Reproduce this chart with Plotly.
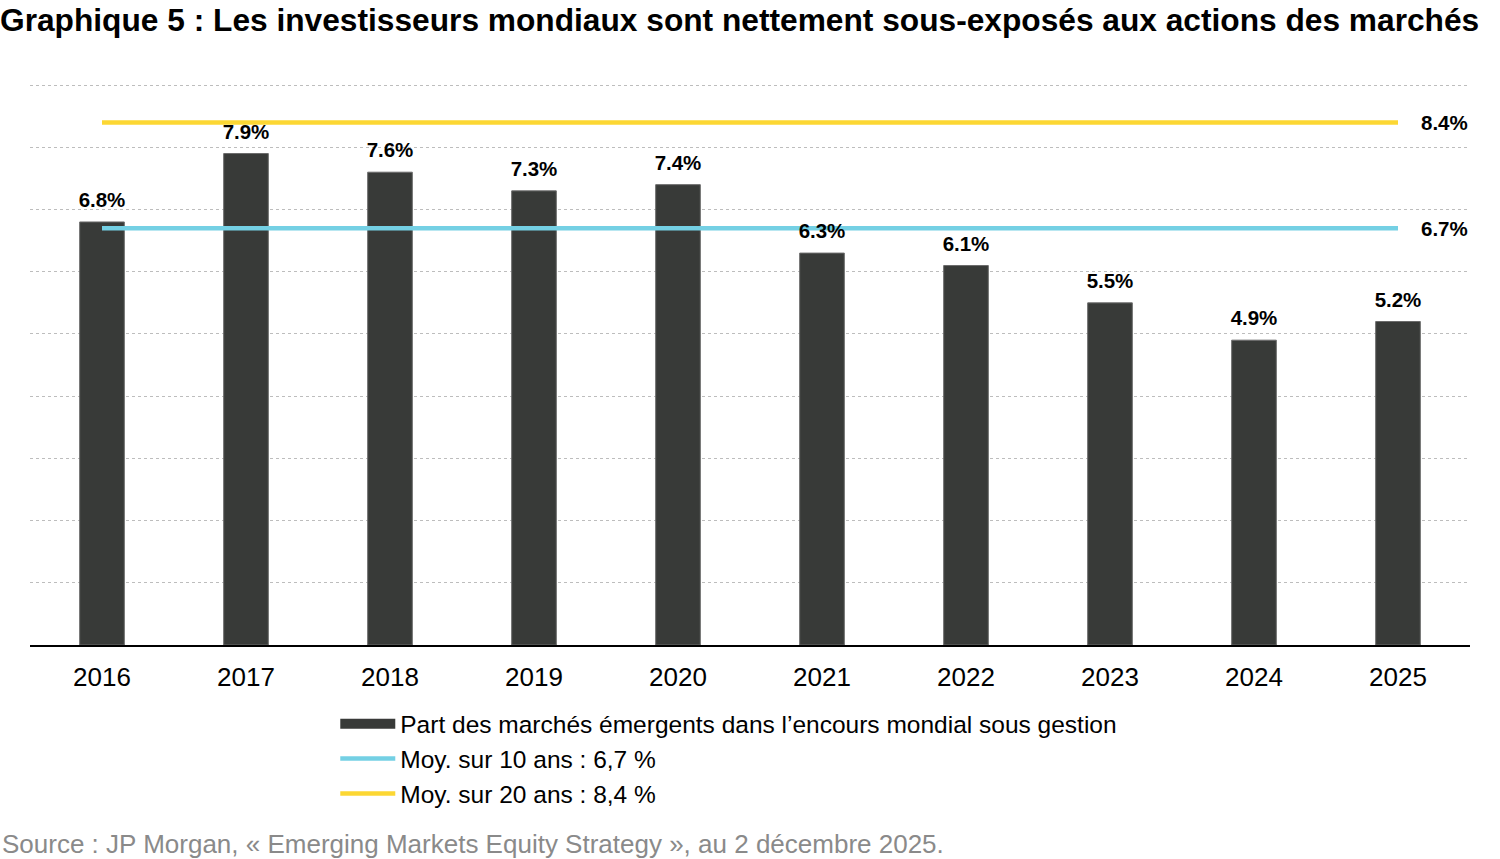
import plotly.graph_objects as go

annees = ['2016', '2017', '2018', '2019', '2020', '2021', '2022', '2023', '2024', '2025']
part_em = [6.8, 7.9, 7.6, 7.3, 7.4, 6.3, 6.1, 5.5, 4.9, 5.2]
moy_10 = 6.7
moy_20 = 8.4

nom_barres = "Part des marchés émergents dans l’encours mondial sous gestion"
nom_10 = "Moy. sur 10 ans : 6,7 %"
nom_20 = "Moy. sur 20 ans : 8,4 %"

titre = "Graphique 5 : Les investisseurs mondiaux sont nettement sous-exposés aux actions des marchés"
source = "Source : JP Morgan, « Emerging Markets Equity Strategy », au 2 décembre 2025."

gris_fonce = '#383a38'
cyan = '#74d0e4'
jaune = '#fcd733'
police = 'Liberation Sans, Arial, sans-serif'

fig = go.Figure()

fig.add_trace(go.Bar(x=annees, y=part_em, marker_color=gris_fonce,
                     marker_line=dict(color='#6b6b6b', width=1),
                     width=0.31, showlegend=False, hoverinfo='y'))

# legend entry for the bars (wide dark swatch)
fig.add_trace(go.Scatter(x=[None], y=[None], mode='lines', name=nom_barres,
                         line=dict(color=gris_fonce, width=15)))

fig.add_trace(go.Scatter(x=annees, y=[moy_10] * len(annees), mode='lines', name=nom_10,
                         line=dict(color=cyan, width=4.5)))
fig.add_trace(go.Scatter(x=annees, y=[moy_20] * len(annees), mode='lines', name=nom_20,
                         line=dict(color=jaune, width=4.5)))

# data labels drawn last so they sit above the average lines
fig.add_trace(go.Scatter(x=annees, y=part_em, mode='markers+text', showlegend=False,
                         marker=dict(size=14, color='rgba(0,0,0,0)'),
                         text=['<b>%.1f%%</b>' % v for v in part_em],
                         textposition='top center',
                         textfont=dict(size=20.5, color='black', family=police),
                         hoverinfo='skip'))

for v in [moy_20, moy_10]:
    fig.add_annotation(x=1, xref='paper', xanchor='right', y=v, yref='y',
                       text='<b>%.1f%%</b>' % v, showarrow=False,
                       font=dict(size=20.5, color='black', family=police))

fig.add_annotation(x=-0.021, xref='paper', xanchor='left', y=-0.353, yref='paper',
                   yanchor='middle', text=source, showarrow=False,
                   font=dict(size=26, color='#8a8a8a', family=police))

fig.update_layout(
    width=1500, height=859,
    margin=dict(l=30, r=30, t=82, b=214),
    plot_bgcolor='white', paper_bgcolor='white',
    font=dict(family=police, color='black', size=26),
    title=dict(text='<b>' + titre + '</b>', x=0, xref='container', xanchor='left',
               y=0.977, yanchor='middle', font=dict(size=31.7, color='black')),
    legend=dict(x=0.212, y=-0.10, xanchor='left', yanchor='top',
                font=dict(size=24.5), itemwidth=55, tracegroupgap=0,
                bgcolor='rgba(0,0,0,0)'),
)

fig.update_xaxes(showgrid=False, showline=True, linecolor='black', linewidth=1.5,
                 ticks='', tickfont=dict(size=26), ticklabelstandoff=8,
                 range=[-0.5, 9.5])
fig.update_yaxes(range=[0, 9.05], dtick=1, showticklabels=False, zeroline=False,
                 showgrid=True, gridcolor='#bdbdbd', griddash='dot', gridwidth=1.3)

# page has a default 8px body margin; drop it so the figure sits at the corner
fig.write_html("out.html", config={'displayModeBar': False},
               post_script="document.body.style.margin='0';")
